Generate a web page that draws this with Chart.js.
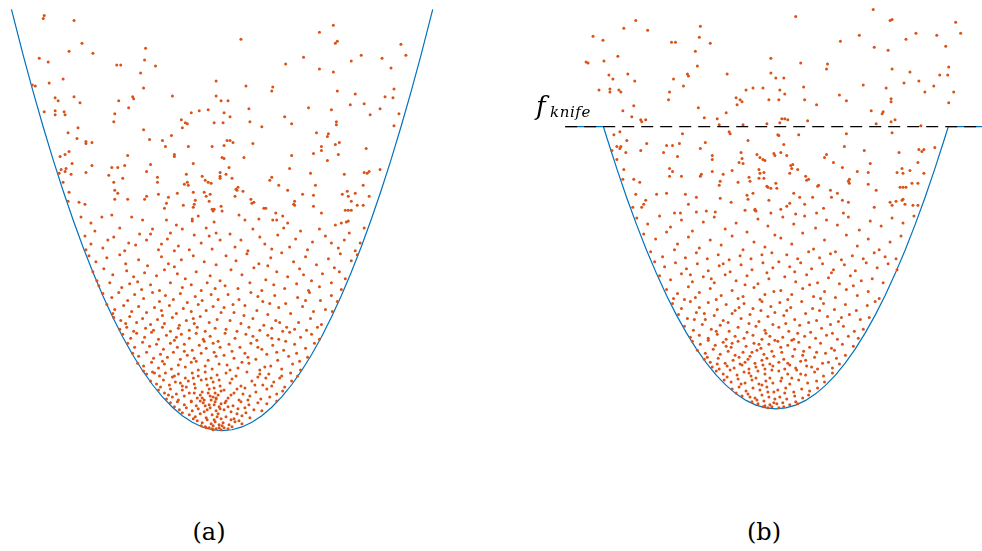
<!DOCTYPE html>
<html lang="en">
<head>
  <meta charset="UTF-8">
  <title>Knife cut of a sampled bowl</title>
  <script src="https://cdn.jsdelivr.net/npm/chart.js"></script>
  <style>
    body { margin: 0; background: #fff; width: 982px; height: 551px; overflow: hidden; position: relative; }
    canvas { position: absolute; top: 0; }
    #panelA { left: 0; }
    #panelB { left: 520px; }
    .caption { position: absolute; width: 100px; text-align: center; font-family: "DejaVu Serif", "Liberation Serif", serif; font-size: 24px; line-height: 24px; top: 520px; color: #000; }
    .knife { position: absolute; font-family: "DejaVu Serif", "Liberation Serif", serif; font-style: italic; color: #000; }
  </style>
</head>
<body>

<canvas id="panelA" width="470" height="460"></canvas>
<canvas id="panelB" width="462" height="460"></canvas>

<div class="knife" style="left:536px; top:93px; font-size:26px; line-height:26px;">f</div>
<div class="knife" style="left:550px; top:105px; font-size:15px; line-height:15px; letter-spacing:0.6px;">knife</div>

<div class="caption" style="left:159px;">(a)</div>
<div class="caption" style="left:714px;">(b)</div>

<script>
// bowl curve, sampled along x (same units as the points)
const bowlX = [-212, -200, -190, -180, -170, -160, -150, -140, -130, -120, -110, -100, -90, -80, -70, -60, -50, -40, -30, -20, -10,
  0, 10, 20, 30, 40, 50, 60, 70, 80, 90, 100, 110, 120, 130, 140, 150, 160, 170, 180, 190, 200, 212];
const bowlY = [424, 377.36, 340.57, 305.66, 272.64, 241.51, 212.26, 184.91, 159.43, 135.85, 114.15, 94.34, 76.42, 60.38, 46.23, 33.96, 23.58, 15.09, 8.49, 3.77, 0.94,
  0, 0.94, 3.77, 8.49, 15.09, 23.58, 33.96, 46.23, 60.38, 76.42, 94.34, 114.15, 135.85, 159.43, 184.91, 212.26, 241.51, 272.64, 305.66, 340.57, 377.36, 424];

// knife level in panel (b) and where it meets the bowl
const knifeLevel = 284;
const knifeCross = [-173.6, 173.6];
const knifeSpan = [-212, 212];

// samples, panel (a)
const pointsA = [
  [-179,418],[-180,415],[-149,413],[-141,390],[-154,382],[-130,380],[-184,375],[-175,371],[-77,385],[-78,373],[-106,368],[-102,368],[-67,367],[-191,348],[-188,347],[-174,350],[-160,354],[-82,360],[-79,345],[-6,352],
  [-168,335],[-165,332],[-149,336],[-143,330],[-179,321],[-168,322],[-168,318],[-159,321],[-158,318],[-104,332],[-90,336],[-89,334],[-94,325],[-108,319],[-109,311],[-50,337],[-6,337],[-1,332],[-31,320],[-23,322],
  [-14,323],[2,320],[-41,313],[-37,310],[-35,309],[-40,305],[-8,310],[1,310],[-79,303],[-73,293],[-60,292],[-51,297],[-57,286],[-48,278],[-48,276],[-34,286],[-10,286],[2,287],[-145,305],[-155,300],
  [-146,294],[-137,291],[-137,289],[-131,290],[-154,281],[-158,278],[-163,276],[-151,269],[-162,263],[-158,261],[-157,264],[-164,259],[-152,258],[-160,250],[-154,240],[-155,231],[-144,230],[-138,228],[-142,215],[-132,209],
  [-121,215],[-111,217],[-91,215],[-80,212],[-137,260],[-131,267],[-111,265],[-105,265],[-98,267],[-95,277],[-114,257],[-109,250],[-100,254],[-108,242],[-105,239],[-108,233],[-95,233],[-72,268],[-76,261],[-65,255],
  [-65,250],[-64,238],[-76,236],[-78,233],[-54,235],[-45,239],[-56,229],[-58,224],[-56,212],[-46,207],[-39,227],[-29,240],[-35,250],[-34,247],[-38,248],[-36,258],[-29,269],[-20,256],[-17,252],[-14,250],
  [-11,249],[-18,240],[-16,236],[-12,238],[-13,231],[-27,232],[-28,228],[-29,225],[-24,216],[-30,213],[-30,211],[-10,223],[-9,221],[-8,223],[-8,210],[-2,256],[-2,254],[0,275],[2,274],[-2,260],
  [19,394],[98,401],[112,408],[114,390],[116,392],[180,389],[185,378],[140,378],[161,375],[130,372],[170,365],[64,369],[82,376],[98,364],[112,361],[24,347],[51,346],[50,342],[116,342],[173,344],
  [134,339],[164,336],[172,335],[6,332],[27,324],[87,325],[110,323],[129,328],[143,329],[159,324],[149,318],[178,319],[8,316],[28,311],[63,316],[70,309],[40,306],[115,311],[115,308],[173,307],
  [95,300],[107,299],[106,296],[118,290],[114,288],[100,286],[100,282],[92,279],[117,278],[106,272],[145,284],[70,277],[31,289],[22,275],[5,292],[8,292],[11,290],[7,265],[4,258],[10,254],
  [14,243],[15,242],[16,245],[13,236],[21,241],[29,233],[32,230],[30,229],[-1,226],[0,221],[17,217],[23,212],[37,213],[42,224],[44,224],[48,252],[50,255],[57,247],[66,242],[68,264],
  [89,259],[94,247],[92,237],[81,238],[73,231],[72,228],[73,227],[54,219],[61,216],[51,212],[55,212],[66,209],[92,226],[100,219],[123,258],[143,260],[146,259],[148,261],[159,263],[142,247],
  [148,236],[134,239],[126,241],[121,238],[127,236],[130,231],[136,227],[142,227],[124,222],[127,222],[130,222],[120,209],[125,210],[127,211],[114,207],
  [-138,196],[-128,201],[-115,192],[-103,204],[-94,189],[-83,198],[-70,203],[-61,188],[-52,199],[-40,203],[-28,197],[-16,204],[-6,199],[-132,188],[-120,184],[-109,195],[-98,181],[-87,187],[-76,192],[-64,182],
  [-55,193],[-44,186],[-33,182],[-21,189],[-10,183],[-2,192],[-137,182],[-72,198],[-48,181],[-13,196],
  [-134,176],[-127,170],[-116,174],[-103,177],[-97,168],[-84,172],[-75,166],[-61,175],[-54,168],[-41,172],[-29,176],[-18,170],[-6,167],[-130,160],[-119,163],[-110,157],[-96,161],[-89,155],[-78,159],[-66,156],
  [-58,162],[-45,158],[-37,153],[-26,160],[-12,156],[-2,151],[-124,146],[-113,149],[-101,144],[-93,148],[-81,142],[-72,147],[-63,141],[-52,149],[-40,144],[-31,147],[-21,141],[-15,149],[-7,143],[-126,151],
  [-85,150],[-48,165],
  [-120,138],[-111,134],[-104,139],[-95,131],[-88,137],[-79,133],[-70,139],[-63,130],[-57,136],[-49,132],[-42,138],[-35,129],[-27,135],[-20,131],[-11,137],[-4,132],[-116,127],[-108,122],[-99,126],[-91,120],
  [-84,125],[-76,119],[-68,124],[-61,121],[-53,126],[-46,118],[-39,123],[-31,120],[-24,127],[-16,121],[-9,125],[-1,119],[-109,114],[-102,111],[-93,115],[-86,109],[-80,113],[-72,107],[-65,112],[-58,108],
  [-50,114],[-43,106],[-36,111],[-28,108],[-22,115],[-13,109],[-5,112],[-103,102],[-96,104],[-89,100],[-77,103],[-69,101],[-60,104],[-52,100],[-44,103],[-33,101],[-25,104],[-17,100],[-7,103],[-110,118],
  [-97,108],[-60,116],[-29,113],
  [-100,97],[-92,93],[-86,98],[-78,94],[-71,99],[-64,92],[-56,96],[-48,91],[-41,97],[-33,93],[-26,98],[-19,92],[-12,95],[-4,90],[-95,88],[-88,84],[-80,89],[-73,85],[-66,87],[-59,82],
  [-52,88],[-45,84],[-38,87],[-30,81],[-23,86],[-16,83],[-9,88],[-2,84],[-90,78],[-84,75],[-76,79],[-69,73],[-62,77],[-55,74],[-49,79],[-42,72],[-35,76],[-28,73],[-21,78],[-14,71],
  [-6,75],[-85,68],[-79,65],[-71,69],[-64,63],[-58,67],[-51,62],[-44,66],[-37,64],[-31,69],[-24,61],[-17,65],[-10,62],[-3,67],[-79,60],[-68,58],[-46,94],[-38,80],[-26,70],[-60,70],
  [-18,90],[-8,79],
  [-76,57],[-70,59],[-63,55],[-57,58],[-50,54],[-44,57],[-37,53],[-30,58],[-24,55],[-17,59],[-11,53],[-5,56],[-72,50],[-66,47],[-59,51],[-53,46],[-47,49],[-40,45],[-34,50],[-28,47],
  [-21,51],[-15,46],[-9,49],[-2,45],[-64,41],[-58,38],[-52,42],[-46,37],[-40,41],[-33,38],[-27,43],[-20,39],[-13,42],[-7,38],[-1,40],[-56,32],[-50,34],[-44,31],[-38,35],[-31,30],
  [-25,33],[-18,31],[-12,35],[-6,32],[-62,44],[-48,55],[-36,44],[-22,36],[-16,52],[-8,43],[-29,53],[-42,48],[-54,36],[-3,51],
  [-52,28],[-45,29],[-38,26],[-31,29],[-26,25],[-19,28],[-13,26],[-7,29],[-1,27],[-43,21],[-36,23],[-30,20],[-24,22],[-18,19],[-12,23],[-6,20],[-2,22],[-33,16],[-27,14],[-22,17],
  [-16,13],[-10,16],[-5,14],[-1,12],[-25,10],[-20,8],[-15,11],[-11,7],[-7,9],[-3,6],[-17,4],[-13,3],[-9,5],[-6,2],[-3,3],[-1,1],[-40,18],[-48,24],[-29,12],[-21,5],
  [-9,1],[-8,11],[-4,17],[-10,2],[-16,3],[-20,33],[-14,38],[-9,34],[-4,36],[-17,25],[-11,31],[-28,38],[-3,24],[-8,26],[-15,21],[-22,30],[-6,33],
  [8,198],[19,192],[31,203],[43,188],[56,197],[68,185],[79,201],[91,190],[104,196],[117,184],[128,199],[139,189],[13,185],[26,181],[38,195],[50,183],[62,204],[74,193],[86,182],[98,203],
  [110,189],[123,192],[134,181],[143,204],
  [4,176],[14,171],[25,178],[37,168],[49,174],[60,179],[72,170],[84,175],[95,167],[107,173],[119,178],[130,171],[136,177],[9,162],[20,157],[32,164],[44,152],[55,160],[66,155],[78,163],
  [90,151],[101,158],[113,164],[124,153],[3,146],[16,143],[28,149],[40,141],[52,147],[63,143],[75,148],[87,141],[98,145],[110,149],[120,142],[46,166],[82,157],[118,160],
  [6,137],[17,132],[29,139],[41,130],[53,136],[64,128],[76,134],[88,139],[99,131],[110,136],[116,130],[2,124],[12,119],[23,126],[35,121],[46,117],[57,124],[69,118],[81,125],[92,120],
  [104,122],[111,120],[8,111],[19,108],[31,113],[42,106],[54,111],[65,104],[77,109],[89,113],[100,107],[4,102],[15,100],[27,104],[38,101],[50,103],[61,100],[73,102],[85,101],[96,104],
  [22,116],[48,128],[84,131],[58,109],[11,127],[36,135],
  [3,98],[13,93],[24,97],[35,91],[46,96],[57,92],[68,99],[79,94],[90,97],[98,92],[7,87],[18,84],[29,88],[40,82],[51,86],[62,81],[73,87],[84,83],[93,88],[2,76],
  [12,73],[23,78],[34,72],[45,77],[56,71],[67,75],[78,70],[86,74],[5,66],[16,63],[27,68],[38,61],[49,65],[60,62],[71,67],[79,61],[10,80],[20,69],[31,95],[43,64],
  [55,79],[64,90],[75,78],[36,84],[8,61],[50,93],[26,74],
  [4,58],[14,55],[25,59],[36,54],[47,57],[58,53],[69,58],[76,55],[8,48],[19,45],[30,50],[41,46],[52,49],[63,44],[70,50],[2,41],[12,38],[23,43],[34,39],[45,42],
  [55,37],[61,40],[6,33],[17,31],[28,35],[39,32],[48,34],[55,30],[10,52],[21,37],[33,46],[44,53],[15,42],[26,31],[38,57],[9,36],[50,45],[60,55],
  [3,28],[11,25],[19,29],[27,26],[36,28],[45,27],[2,21],[9,19],[16,22],[24,18],[32,21],[40,20],[4,14],[12,12],[20,15],[28,13],[1,8],[7,6],[13,9],[20,7],
  [2,3],[6,2],[10,4],[15,17],[6,24],[23,23],[9,11],[0,5],[17,10],[4,30]
];

// samples, panel (b)
const pointsB = [
  [-141,391],[-153,383],[-129,381],[-184,375],[-174,371],[-76,385],[-77,374],[-105,369],[-101,369],[-66,368],[-81,360],[-191,349],[-189,348],[-173,350],[-159,355],[-79,345],[-89,337],[-88,335],[-49,337],[-168,336],
  [-164,332],[-149,337],[-142,330],[-103,332],[-93,325],[-178,321],[-167,322],[-167,319],[-158,321],[-156,319],[-107,319],[-108,311],[-30,321],[-23,323],[-40,313],[-36,311],[-34,309],[-39,306],[-154,300],[-143,305],
  [-145,294],[-136,291],[-135,289],[-131,291],[-78,303],[-72,293],[-59,292],[-50,298],[-57,286],[-33,286],[20,395],[98,402],[115,391],[117,392],[181,389],[186,378],[84,376],[65,370],[131,372],[141,378],
  [162,376],[171,365],[99,364],[113,361],[-5,353],[25,348],[52,347],[51,342],[117,342],[135,339],[174,344],[165,336],[173,336],[-5,338],[0,333],[8,333],[-13,323],[28,324],[4,321],[9,317],
  [-7,311],[3,311],[29,311],[41,306],[64,316],[71,310],[88,326],[111,323],[129,328],[144,330],[159,325],[150,319],[179,319],[174,308],[116,312],[116,309],[96,300],[107,297],[108,299],[6,292],
  [9,292],[12,291],[32,290],[-9,287],[4,288],[116,289],[120,291],[101,287],[146,285],
  [-163,276],[-157,279],[-150,270],[-130,267],[-160,264],[-157,262],[-156,264],[-165,260],[-151,258],[-136,260],[-110,265],[-104,265],[-97,267],[-94,277],[-71,268],[-76,262],[-64,255],[-64,251],[-113,258],[-99,254],
  [-107,242],[-104,239],[-95,234],[-75,236],[-76,234],[-64,239],[-53,236],[-44,240],[-37,248],[-33,247],[-35,258],[-34,252],[-28,270],[-47,279],[-46,277],[-160,251],[-153,241],[-154,231],[-143,231],[-137,228],
  [-107,234],[-56,229],[-57,225],[-38,228],[-27,233],[-26,229],[-141,216],[-120,216],[-110,217],[-91,216],[-80,213],[-56,212],[-45,208],[-29,215],[-28,211],[-131,210],[-133,206],[-135,203],[-144,203],[-88,206],
  [-102,197],[-96,197],[-80,198],[-70,199],[-61,198],[-31,200],[-21,200],
  [2,276],[3,275],[23,276],[71,277],[8,266],[69,264],[89,260],[-19,256],[-16,253],[-13,251],[-11,250],[-2,257],[-1,255],[5,258],[11,255],[49,253],[51,256],[58,248],[67,243],[95,247],
  [117,278],[124,258],[143,248],[144,261],[147,259],[149,261],[160,263],[-17,241],[-12,238],[-16,237],[-17,232],[-12,232],[0,227],[-9,224],[-8,223],[-5,222],[1,222],[15,245],[16,242],[17,246],
  [14,237],[22,241],[30,234],[33,231],[31,230],[43,225],[42,224],[18,217],[24,213],[29,206],[14,207],[11,204],[-7,210],[-23,217],[-21,201],[-20,199],[-5,197],[5,201],[20,196],[37,213],
  [41,197],[48,202],[55,220],[56,213],[62,217],[67,210],[73,208],[74,231],[73,229],[74,227],[82,239],[93,238],[93,226],[101,220],[99,203],[68,197],[115,208],[117,205],[121,209],[127,210],
  [128,211],[130,206],[138,205],[143,205],[122,238],[127,242],[128,237],[135,240],[125,223],[128,223],[131,223],[143,227],[137,227],[149,237],
  [-140,192],[-129,186],[-117,194],[-106,183],[-95,190],[-84,179],[-73,188],[-62,193],[-51,181],[-40,187],[-29,178],[-18,191],[-8,184],[-1,175],[-133,176],[-121,171],[-110,178],[-99,166],[-88,173],[-77,162],
  [-66,170],[-55,165],[-44,174],[-33,160],[-22,168],[-11,163],[-4,157],[-126,158],[-114,153],[-102,160],[-91,152],[-80,157],[-69,151],[-58,155],[-47,150],[-36,154],[-25,151],[-14,155],
  [-122,148],[-112,143],[-101,147],[-90,141],[-79,146],[-68,139],[-57,144],[-46,138],[-35,145],[-24,140],[-13,147],[-3,142],[-117,134],[-106,130],[-95,136],[-84,128],[-73,133],[-62,127],[-51,135],[-40,129],
  [-29,134],[-18,126],[-7,131],[-110,120],[-99,116],[-88,123],[-77,117],[-66,121],[-55,114],[-44,119],[-33,113],[-22,122],[-11,115],[-2,118],[-103,111],[-92,110],[-81,112],[-60,110],[-38,111],[-16,110],
  [-65,131],[-31,125],[-53,146],[-9,137],[-86,135],
  [-104,106],[-95,101],[-86,108],[-77,102],[-68,107],[-59,100],[-50,105],[-41,99],[-32,106],[-23,101],[-14,108],[-5,103],[-98,95],[-89,91],[-80,97],[-71,90],[-62,94],[-53,89],[-44,96],[-35,91],
  [-26,95],[-17,88],[-8,93],[-1,97],[-92,83],[-83,79],[-74,85],[-65,80],[-56,84],[-47,78],[-38,82],[-29,77],[-20,83],[-11,79],[-3,85],[-86,72],[-77,74],[-68,71],[-59,75],[-50,70],
  [-41,73],[-32,71],[-23,74],[-14,70],[-6,73],[-72,96],[-48,87],[-27,86],[-60,78],[-15,99],[-37,102],[-82,90],[-10,76],
  [-84,68],[-76,65],[-68,69],[-61,64],[-53,67],[-45,62],[-38,68],[-30,63],[-22,66],[-15,61],[-7,65],[-1,69],[-79,59],[-71,56],[-63,60],[-56,55],[-48,58],[-41,54],[-33,57],[-26,53],
  [-19,59],[-12,55],[-4,58],[-72,50],[-66,47],[-58,51],[-51,46],[-43,49],[-36,45],[-28,50],[-21,46],[-14,49],[-6,45],[-64,42],[-57,40],[-49,43],[-42,41],[-34,44],[-27,40],[-20,42],
  [-11,40],[-3,43],[-50,63],[-37,52],[-24,57],[-9,51],[-17,65],[-44,66],[-31,47],[-59,45],[-2,53],[-69,52],[-13,44],
  [-60,38],[-53,35],[-46,39],[-39,34],[-32,37],[-25,33],[-18,38],[-11,35],[-4,39],[-52,29],[-45,27],[-38,30],[-31,26],[-24,29],[-17,25],[-10,28],[-3,26],[-44,20],[-37,22],[-30,18],
  [-23,21],[-16,19],[-9,22],[-2,17],[-34,13],[-28,15],[-21,11],[-14,14],[-7,12],[-1,10],[-24,7],[-18,5],[-12,8],[-6,4],[-2,6],[-13,2],[-8,1],[-4,2],[-11,3],[-27,36],
  [-49,32],[-20,31],[-6,31],[-35,25],[-14,24],[-26,12],[-40,16],[-8,17],[-19,9],
  [7,193],[18,186],[29,194],[40,182],[51,190],[62,185],[73,193],[84,180],[95,189],[106,184],[117,192],[128,187],[139,194],[5,172],[16,166],[27,177],[38,161],[49,170],[60,158],[71,175],
  [82,164],[93,171],[104,160],[115,168],[126,174],[11,155],[22,151],[33,158],[44,152],[55,156],[66,150],[77,154],[88,151],[99,157],[110,153],[121,151],
  [3,148],[14,143],[25,147],[36,141],[47,146],[58,140],[69,145],[80,139],[91,147],[102,142],[113,146],[122,140],[9,133],[20,128],[31,135],[42,127],[53,132],[64,126],[75,134],[86,129],
  [97,131],[108,127],[5,119],[16,115],[27,121],[38,113],[49,118],[60,112],[71,120],[82,114],[93,118],[104,111],[12,110],[34,125],[56,137],[45,111],[78,124],[19,138],
  [4,107],[15,102],[26,108],[37,101],[48,106],[59,100],[70,105],[81,99],[92,104],[100,108],[8,94],[19,90],[30,96],[41,89],[52,93],[63,88],[74,95],[85,90],[94,92],[3,82],
  [13,78],[24,84],[35,77],[46,81],[57,76],[68,83],[79,78],[88,80],[7,72],[18,70],[29,73],[40,71],[51,74],[62,70],[73,73],[83,71],[11,99],[33,87],[55,85],[22,76],
  [44,99],[66,92],[10,86],
  [2,68],[12,64],[23,67],[34,62],[45,66],[56,61],[67,65],[78,63],[6,57],[17,53],[28,58],[39,52],[50,56],[61,51],[70,54],[3,47],[14,44],[25,48],[36,42],[47,46],
  [57,41],[64,45],[9,40],[20,41],[31,43],[42,40],[8,50],[19,60],[30,49],[41,57],[53,47],[16,69],[5,62],[27,54],[59,59],[12,46],
  [3,38],[12,35],[21,39],[30,34],[39,37],[48,33],[57,36],[5,28],[14,25],[23,29],[32,26],[41,28],[49,27],[2,19],[10,21],[18,17],[26,20],[34,18],[42,21],[4,12],
  [11,10],[19,13],[27,11],[33,14],[1,5],[7,6],[14,4],[20,7],[3,1],[8,2],[6,31],[16,31],[25,35],[9,16],[22,5]
];

const lineBlue = '#0072BD';
const dotOrange = '#D95319';

function toXY(pairs) {
  return pairs.map(p => ({ x: p[0], y: p[1] }));
}

const bowlA = bowlX.map((x, i) => ({ x: x, y: bowlY[i] }));

// panel (b): bowl capped at the knife level
const bowlB = bowlX.filter((x, i) => bowlY[i] < knifeLevel).map(x => ({ x: x, y: bowlY[bowlX.indexOf(x)] }));
bowlB.unshift({ x: knifeCross[0], y: knifeLevel });
bowlB.unshift({ x: knifeSpan[0], y: knifeLevel });
bowlB.push({ x: knifeCross[1], y: knifeLevel });
bowlB.push({ x: knifeSpan[1], y: knifeLevel });

const knifeLine = knifeSpan.map(x => ({ x: x, y: knifeLevel }));

function panelOptions(xMin, xMax, yMin, yMax) {
  return {
    responsive: false,
    animation: false,
    events: [],
    layout: { padding: 0 },
    plugins: { legend: { display: false }, tooltip: { enabled: false } },
    scales: {
      x: { type: 'linear', display: false, min: xMin, max: xMax },
      y: { type: 'linear', display: false, min: yMin, max: yMax }
    }
  };
}

const dotStyle = { showLine: false, pointRadius: 1.5, pointBackgroundColor: dotOrange, pointBorderWidth: 0, pointHoverRadius: 0, clip: false };
const curveStyle = { showLine: true, pointRadius: 0, borderColor: lineBlue, borderWidth: 1.2, tension: 0, fill: false, clip: false };

new Chart(document.getElementById('panelA'), {
  type: 'scatter',
  data: {
    datasets: [
      Object.assign({ data: toXY(pointsA) }, dotStyle),
      Object.assign({ data: bowlA }, curveStyle)
    ]
  },
  options: panelOptions(-222, 248, -28, 432)
});

new Chart(document.getElementById('panelB'), {
  type: 'scatter',
  data: {
    datasets: [
      { data: knifeLine, showLine: true, pointRadius: 0, borderColor: '#000', borderWidth: 1.2, borderDash: [12, 7], clip: false },
      Object.assign({ data: toXY(pointsB) }, dotStyle),
      Object.assign({ data: bowlB }, curveStyle)
    ]
  },
  options: panelOptions(-256, 206, -50, 410)
});
</script>

</body>
</html>
